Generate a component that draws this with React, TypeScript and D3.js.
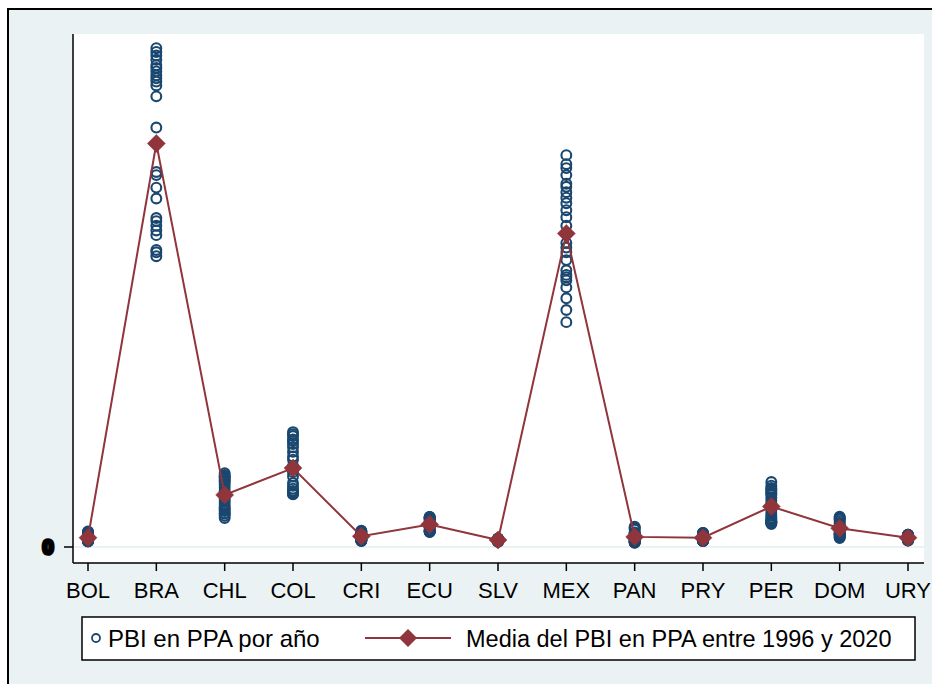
import React from "react";
import * as d3 from "d3";

// Countries (x categories)
const categories = ["BOL", "BRA", "CHL", "COL", "CRI", "ECU", "SLV", "MEX", "PAN", "PRY", "PER", "DOM", "URY"];

// GDP PPP per year, 1996-2020 (billions)
const BOL = [35, 37, 39, 39, 40, 41, 42, 43, 45, 47, 49, 52, 55, 57, 59, 62, 65, 69, 73, 76, 86, 92, 96, 100, 90];
const BRA = [1865, 1890, 1905, 2000, 2030, 2060, 2090, 2110, 2235, 2305, 2385, 2405, 2690, 2890, 2960, 2985, 3006, 3025, 3050, 3072, 3090, 3125, 3152, 3175, 3199];
const CHL = [186, 200, 214, 216, 230, 240, 250, 260, 276, 292, 306, 320, 336, 340, 360, 380, 400, 414, 424, 432, 442, 452, 462, 474, 450];
const COL = [340, 352, 350, 338, 346, 352, 360, 374, 392, 410, 452, 480, 495, 500, 520, 560, 580, 610, 640, 660, 680, 690, 712, 724, 737];
const CRI = [38, 40, 42, 44, 45, 47, 49, 52, 55, 58, 62, 66, 69, 70, 73, 77, 81, 84, 87, 90, 94, 98, 101, 104, 99];
const ECU = [96, 100, 103, 98, 100, 104, 108, 112, 122, 128, 134, 137, 145, 146, 151, 163, 172, 180, 187, 188, 187, 191, 192, 192, 177];
const SLV = [34, 35, 36, 37, 37, 38, 39, 40, 41, 42, 43, 45, 46, 45, 46, 47, 48, 49, 50, 51, 52, 53, 54, 55, 50];
const MEX = [1442, 1520, 1595, 1665, 1710, 1730, 1745, 1775, 1840, 1890, 1920, 1950, 2010, 2060, 2115, 2160, 2205, 2240, 2275, 2310, 2330, 2385, 2430, 2455, 2513];
const PAN = [27, 29, 31, 33, 34, 35, 36, 38, 41, 44, 48, 53, 58, 59, 64, 71, 78, 84, 89, 94, 112, 120, 125, 130, 90];
const PRY = [38, 40, 40, 40, 40, 40, 42, 44, 46, 47, 49, 52, 55, 55, 61, 64, 64, 72, 75, 79, 82, 86, 90, 90, 89];
const PER = [147, 157, 156, 158, 163, 164, 172, 179, 188, 200, 215, 234, 255, 258, 280, 298, 316, 335, 343, 351, 364, 378, 393, 417, 370];
const DOM = [58, 62, 67, 72, 77, 80, 85, 84, 86, 94, 104, 113, 118, 119, 128, 134, 138, 145, 155, 166, 177, 186, 190, 195, 180];
const URY = [45, 48, 50, 49, 48, 46, 41, 42, 44, 47, 49, 53, 57, 59, 64, 67, 70, 73, 75, 75, 77, 78, 79, 79, 74];

const seriesByCountry = [BOL, BRA, CHL, COL, CRI, ECU, SLV, MEX, PAN, PRY, PER, DOM, URY];

const yTicks = [0];
const yMax = 3290;

const legendScatter = "PBI en PPA por año";
const legendMean = "Media del PBI en PPA entre 1996 y 2020";

const NAVY = "#1a476f";
const MAROON = "#90353b";
const BG = "#eaf2f3";

export default function App() {
  const W = 932;
  const H = 684;
  const plot = { left: 73, right: 924, top: 34, bottom: 563 };

  const x = d3.scalePoint<string>().domain(categories).range([88, 908]);
  const y = d3.scaleLinear().domain([0, yMax]).range([547, plot.top]);

  const points = categories.flatMap((c, i) => seriesByCountry[i].map((v) => ({ c, v })));
  const means = categories.map((c, i) => ({ c, m: d3.mean(seriesByCountry[i]) as number }));

  const line = d3
    .line<{ c: string; m: number }>()
    .x((d) => x(d.c) as number)
    .y((d) => y(d.m));

  const diamond = (cx: number, cy: number, r: number) =>
    `M${cx},${cy - r}L${cx + r},${cy}L${cx},${cy + r}L${cx - r},${cy}Z`;

  const font = "'Liberation Sans', Arial, Helvetica, sans-serif";

  return (
    <svg
      width={W}
      height={H}
      style={{ position: "fixed", left: 0, top: 0, background: "#fff" }}
    >
      {/* outer graph region */}
      <rect x={8} y={9} width={W} height={H} fill={BG} stroke="#000" strokeWidth={2} />
      {/* plot region */}
      <rect x={plot.left} y={plot.top} width={plot.right - plot.left} height={plot.bottom - plot.top} fill="#fff" />

      {/* gridline */}
      {yTicks.map((t) => (
        <line key={"g" + t} x1={plot.left} x2={plot.right} y1={y(t)} y2={y(t)} stroke={BG} strokeWidth={2} />
      ))}

      {/* y axis */}
      <line x1={plot.left} x2={plot.left} y1={plot.top} y2={plot.bottom} stroke="#000" strokeWidth={1.5} />
      {yTicks.map((t) => (
        <g key={"yt" + t}>
          <line x1={64} x2={plot.left} y1={y(t)} y2={y(t)} stroke="#000" strokeWidth={1.5} />
          <text
            x={48}
            y={y(t)}
            dy="0.36em"
            textAnchor="middle"
            fontFamily={font}
            fontSize={20}
            fontWeight="bold"
            stroke="#000"
            strokeWidth={3.5}
            fill="#000"
          >
            {t}
          </text>
        </g>
      ))}

      {/* x axis */}
      <line x1={plot.left} x2={plot.right} y1={plot.bottom} y2={plot.bottom} stroke="#000" strokeWidth={1.5} />
      {categories.map((c) => (
        <g key={"xt" + c}>
          <line x1={x(c)} x2={x(c)} y1={plot.bottom} y2={plot.bottom + 8} stroke="#000" strokeWidth={1.5} />
          <text x={x(c)} y={598} textAnchor="middle" fontFamily={font} fontSize={22} fill="#000">
            {c}
          </text>
        </g>
      ))}

      {/* scatter points */}
      {points.map((p, i) => (
        <circle key={"p" + i} cx={x(p.c)} cy={y(p.v)} r={4.9} fill="none" stroke={NAVY} strokeWidth={2.1} />
      ))}

      {/* mean line */}
      <path d={line(means) as string} fill="none" stroke={MAROON} strokeWidth={2} />
      {means.map((d) => (
        <path key={"m" + d.c} d={diamond(x(d.c) as number, y(d.m), 9)} fill={MAROON} stroke={MAROON} strokeWidth={0.5} />
      ))}

      {/* legend */}
      <rect x={82} y={617} width={833} height={43} fill="#fff" stroke="#000" strokeWidth={1.5} />
      <circle cx={96} cy={638} r={4} fill="none" stroke={NAVY} strokeWidth={1.8} />
      <text x={108} y={647} fontFamily={font} fontSize={24} fill="#000">
        {legendScatter}
      </text>
      <line x1={365} x2={451} y1={638} y2={638} stroke={MAROON} strokeWidth={2} />
      <path d={diamond(408, 638, 9)} fill={MAROON} />
      <text x={466} y={647} fontFamily={font} fontSize={23.5} fill="#000">
        {legendMean}
      </text>
    </svg>
  );
}
